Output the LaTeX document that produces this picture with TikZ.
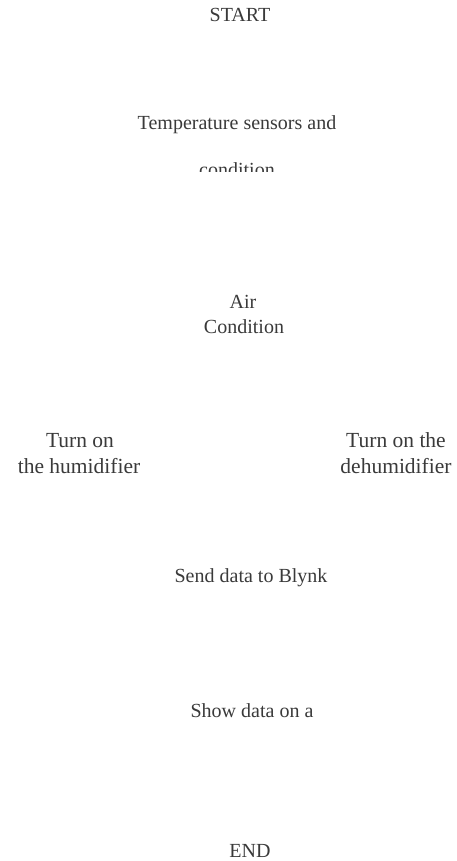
\documentclass[tikz,border=0pt]{standalone}
\usepackage{fontspec}
\setmainfont{Liberation Serif}
\definecolor{ink}{RGB}{58,58,58}
\begin{document}
\begin{tikzpicture}[x=1pt,y=1pt,
  lbl/.style={anchor=base,inner sep=0pt,text=ink,font=\fontsize{20}{24}\selectfont},
  lblbig/.style={anchor=base,inner sep=0pt,text=ink,font=\fontsize{21.5}{26}\selectfont}]
\useasboundingbox (0,0) rectangle (456,-861);
\fill[white] (0,0) rectangle (456,-861);
\node[lbl] (start) at (240,-22) {START};
\node[lbl] (temp1) at (237,-130) {Temperature sensors and};
\begin{scope}
  \clip (0,-150) rectangle (456,-171.5);
  \node[lbl] (temp2) at (237,-177) {condition};
\end{scope}
\node[lbl] (air1) at (243,-308) {Air};
\node[lbl] (air2) at (244,-333) {Condition};
\node[lblbig] (hum1) at (80,-447) {Turn on};
\node[lblbig] (hum2) at (79,-473) {the humidifier};
\node[lblbig] (dehum1) at (396,-447) {Turn on the};
\node[lblbig] (dehum2) at (396,-473) {dehumidifier};
\node[lbl] (send) at (251,-582) {Send data to Blynk};
\node[lbl] (show) at (252,-717) {Show data on a};
\node[lbl] (end) at (250,-857) {END};
\end{tikzpicture}
\end{document}
